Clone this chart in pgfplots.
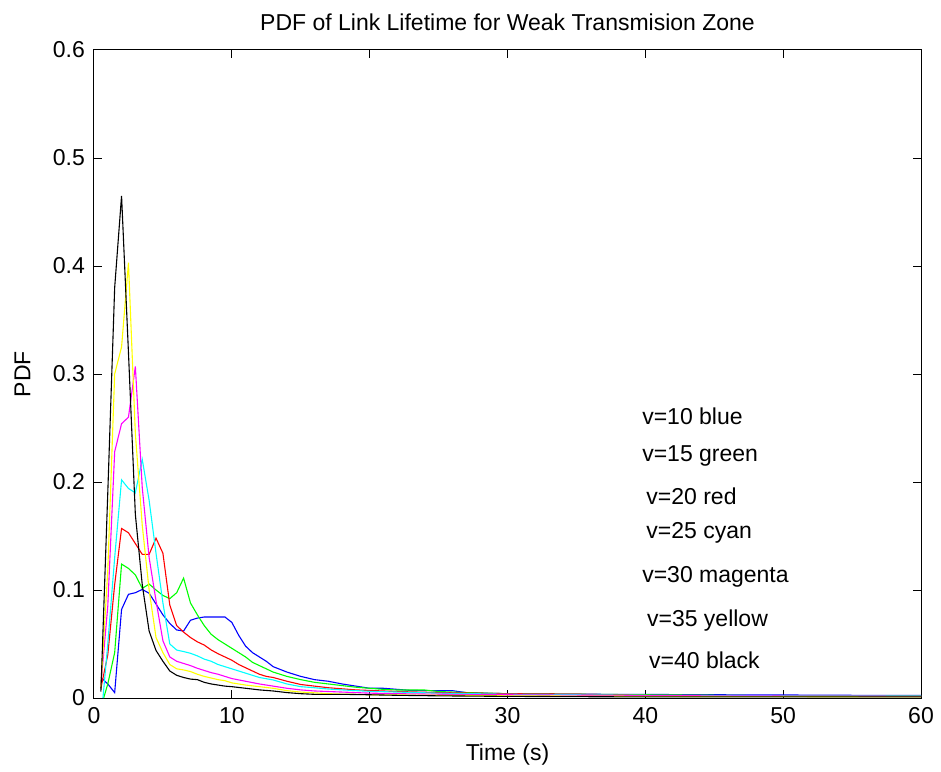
\documentclass[border=0pt]{standalone}
\usepackage{fontspec}
\setmainfont{Liberation Sans}
\usepackage{pgfplots}
\pgfplotsset{compat=1.18}
\definecolor{mblue}{rgb}{0,0,1}
\definecolor{mgreen}{rgb}{0,1,0}
\definecolor{mred}{rgb}{1,0,0}
\definecolor{mcyan}{rgb}{0,1,1}
\definecolor{mmagenta}{rgb}{1,0,1}
\definecolor{myellow}{rgb}{1,1,0}
\begin{document}
\begin{tikzpicture}
\begin{axis}[
  scale only axis, width=413.5pt, height=324pt,
  xmin=0, xmax=60, ymin=0, ymax=0.6,
  xtick={0,10,20,30,40,50,60},
  ytick={0,0.1,0.2,0.3,0.4,0.5,0.6},
  yticklabels={0,0.1,0.2,0.3,0.4,0.5,0.6},
  xticklabels={0,10,20,30,40,50,60},
  tick align=inside, major tick length=4pt,
  tick style={black, line width=0.5pt},
  axis line style={black, line width=0.5pt},
  /pgf/number format/assume math mode=true,
  every tick label/.append style={font=\fontsize{11.5}{14}\selectfont},
  xticklabel style={yshift=-1pt},
  yticklabel style={xshift=-1pt},
  label style={font=\fontsize{11.5}{14}\selectfont},
  title style={font=\fontsize{11.5}{14}\selectfont, at={(axis description cs:0.5,1)}, anchor=base, yshift=3.5pt},
  title={PDF of Link Lifetime for Weak Transmision Zone},
  xlabel={Time (s)},
  xlabel style={at={(axis description cs:0.5,0)}, anchor=base, yshift=-31pt},
  ylabel={PDF},
  ylabel style={at={(axis description cs:-0.077,0.5)}, anchor=base},
  every axis plot/.append style={line width=0.55pt, mark=none},
  clip=true,
]
% v=10 blue
\addplot[color=mblue] coordinates {
(0.5,0.019)(1.0,0.013)(1.5,0.005)(2.0,0.082)(2.5,0.096)(3.0,0.0975)(3.5,0.1005)(4.0,0.097)(4.5,0.087)(5.0,0.077)(5.5,0.069)(6.0,0.063)(6.5,0.062)(7.0,0.072)(7.5,0.074)(8.0,0.075)(8.5,0.075)(9.0,0.075)(9.5,0.075)(10.0,0.070)(10.5,0.058)(11.0,0.048)(11.5,0.042)(12.0,0.038)(12.5,0.034)(13.0,0.029)(14.0,0.024)(15.0,0.020)(16.0,0.017)(17.0,0.0155)(18.0,0.013)(19.0,0.011)(20.0,0.009)(21.0,0.009)(22.0,0.008)(23.0,0.007)(24.0,0.0068)(25.0,0.0068)(26.0,0.0068)(27.0,0.005)(28.0,0.0045)(30.0,0.004)(35.0,0.0035)(40.0,0.0033)(45.0,0.003)(50.0,0.0028)(55.0,0.0025)(60.0,0.0025)
};
% v=15 green
\addplot[color=mgreen] coordinates {
(0.7,0.0)(1.0,0.013)(1.5,0.042)(2.0,0.124)(2.5,0.120)(3.0,0.114)(3.5,0.1015)(4.0,0.1055)(4.5,0.100)(5.0,0.095)(5.5,0.092)(6.0,0.0975)(6.5,0.111)(7.0,0.088)(7.5,0.077)(8.0,0.067)(8.5,0.059)(9.0,0.054)(9.5,0.050)(10.0,0.046)(10.5,0.042)(11.0,0.038)(11.5,0.033)(12.0,0.030)(12.5,0.027)(13.0,0.024)(14.0,0.020)(15.0,0.017)(16.0,0.0145)(17.0,0.013)(18.0,0.0115)(19.0,0.010)(20.0,0.009)(21.0,0.008)(22.0,0.0074)(24.0,0.0074)(25.0,0.006)(27.0,0.005)(30.0,0.004)(35.0,0.0035)(40.0,0.003)(50.0,0.002)(60.0,0.002)
};
% v=20 red
\addplot[color=mred] coordinates {
(0.5,0.009)(1.0,0.04)(1.5,0.105)(2.0,0.157)(2.5,0.153)(3.0,0.143)(3.5,0.133)(4.0,0.133)(4.5,0.148)(5.0,0.134)(5.5,0.086)(6.0,0.067)(6.5,0.061)(7.0,0.056)(7.5,0.052)(8.0,0.049)(8.5,0.0445)(9.0,0.041)(9.5,0.038)(10.0,0.035)(10.5,0.031)(11.0,0.028)(11.5,0.025)(12.0,0.022)(12.5,0.020)(13.0,0.019)(14.0,0.0155)(15.0,0.0125)(16.0,0.011)(17.0,0.0095)(18.0,0.0085)(19.0,0.0075)(20.0,0.007)(22.0,0.006)(25.0,0.005)(30.0,0.004)(35.0,0.0035)(40.0,0.0025)(50.0,0.002)(60.0,0.002)
};
% v=25 cyan
\addplot[color=mcyan] coordinates {
(0.65,0.0)(1.0,0.05)(1.5,0.13)(2.0,0.202)(2.5,0.194)(3.0,0.190)(3.5,0.221)(4.0,0.183)(4.5,0.134)(5.0,0.088)(5.5,0.050)(6.0,0.0444)(6.5,0.043)(7.0,0.0414)(7.5,0.039)(8.0,0.036)(8.5,0.034)(9.0,0.031)(9.5,0.029)(10.0,0.027)(11.0,0.023)(12.0,0.019)(13.0,0.0167)(14.0,0.013)(15.0,0.0105)(16.0,0.0095)(17.0,0.0083)(18.0,0.0075)(19.0,0.0068)(20.0,0.0062)(22.0,0.0055)(25.0,0.0045)(30.0,0.0035)(35.0,0.003)(40.0,0.0025)(50.0,0.002)(60.0,0.002)
};
% v=30 magenta
\addplot[color=mmagenta] coordinates {
(0.5,0.012)(1.0,0.085)(1.5,0.228)(2.0,0.254)(2.5,0.260)(3.0,0.307)(3.5,0.195)(4.0,0.13)(4.5,0.09)(5.0,0.053)(5.5,0.038)(6.0,0.034)(6.5,0.032)(7.0,0.030)(7.5,0.0275)(8.0,0.0255)(8.5,0.0235)(9.0,0.022)(9.5,0.020)(10.0,0.018)(11.0,0.0155)(12.0,0.013)(13.0,0.011)(14.0,0.009)(15.0,0.0075)(16.0,0.0065)(17.0,0.006)(18.0,0.0055)(19.0,0.005)(20.0,0.0045)(22.0,0.004)(25.0,0.0035)(30.0,0.003)(40.0,0.0022)(50.0,0.0018)(60.0,0.0015)
};
% v=35 yellow
\addplot[color=myellow] coordinates {
(0.5,0.01)(1.0,0.118)(1.5,0.300)(2.0,0.325)(2.5,0.403)(3.0,0.245)(3.5,0.16)(4.0,0.10)(4.5,0.056)(5.0,0.042)(5.5,0.031)(6.0,0.027)(6.5,0.026)(7.0,0.0245)(7.5,0.022)(8.0,0.020)(8.5,0.0185)(9.0,0.017)(9.5,0.016)(10.0,0.014)(11.0,0.012)(12.0,0.0105)(13.0,0.009)(14.0,0.0068)(15.0,0.0055)(16.0,0.0048)(17.0,0.004)(18.0,0.0036)(19.0,0.0034)(20.0,0.003)(22.0,0.0028)(25.0,0.0025)(30.0,0.002)(40.0,0.0015)(60.0,0.001)
};
% v=40 black
\addplot[color=black] coordinates {
(0.5,0.006)(1.0,0.19)(1.5,0.38)(2.0,0.465)(2.5,0.32)(3.0,0.17)(3.5,0.105)(4.0,0.062)(4.5,0.044)(5.0,0.034)(5.5,0.025)(6.0,0.021)(6.5,0.019)(7.0,0.0175)(7.5,0.017)(8.0,0.0145)(8.5,0.013)(9.0,0.012)(9.5,0.011)(10.0,0.0105)(11.0,0.009)(12.0,0.0075)(13.0,0.0065)(14.0,0.005)(15.0,0.004)(16.0,0.0034)(18.0,0.0034)(20.0,0.003)(22.0,0.0025)(25.0,0.002)(30.0,0.0015)(40.0,0.001)(60.0,0.001)
};
\begin{scope}[every node/.style={anchor=west, inner sep=0pt, font=\fontsize{11.5}{14}\selectfont}]
\node at (axis cs:39.75,0.261) {v=10 blue};
\node at (axis cs:39.75,0.224) {v=15 green};
\node at (axis cs:40.05,0.187) {v=20 red};
\node at (axis cs:40.05,0.153) {v=25 cyan};
\node at (axis cs:39.75,0.112) {v=30 magenta};
\node at (axis cs:40.1,0.072) {v=35 yellow};
\node at (axis cs:40.25,0.035) {v=40 black};
\end{scope}
\end{axis}
\pgfresetboundingbox
\path ([shift={(-47pt,-36.5pt)}]current axis.south west) rectangle ([shift={(10pt,25pt)}]current axis.north east);
\end{tikzpicture}
\end{document}
